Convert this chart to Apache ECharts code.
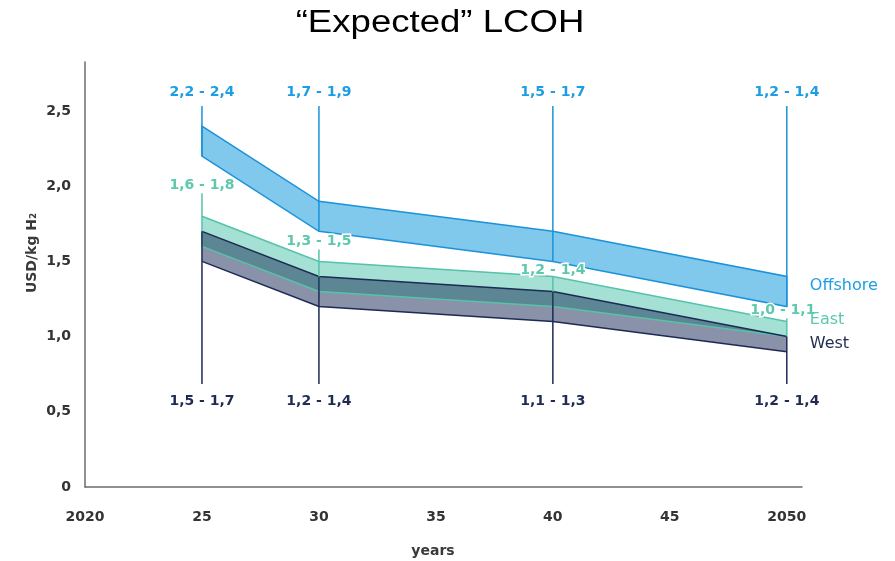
<!DOCTYPE html>
<html>
<head>
<meta charset="utf-8">
<script src="https://cdn.jsdelivr.net/npm/echarts@6/dist/echarts.min.js"></script>
<style>
  html, body { margin: 0; padding: 0; background: #ffffff; }
  #chart { width: 895px; height: 561px; }
</style>
</head>
<body>
<div id="chart"></div>
<script>
// Levelized cost of hydrogen ranges (USD/kg H2) for three supply regions
const years = [2025, 2030, 2040, 2050];

const offshoreLow  = [2.2, 1.7, 1.5, 1.2];
const offshoreHigh = [2.4, 1.9, 1.7, 1.4];
const eastLow      = [1.6, 1.3, 1.2, 1.0];
const eastHigh     = [1.8, 1.5, 1.4, 1.1];
const westLow      = [1.5, 1.2, 1.1, 0.9];
const westHigh     = [1.7, 1.4, 1.3, 1.0];

const offshoreLabels = ['2,2 - 2,4', '1,7 - 1,9', '1,5 - 1,7', '1,2 - 1,4'];
const eastLabels     = ['1,6 - 1,8', '1,3 - 1,5', '1,2 - 1,4', '1,0 - 1,1'];
const westLabels     = ['1,5 - 1,7', '1,2 - 1,4', '1,1 - 1,3', '1,2 - 1,4'];

const seriesNames = ['Offshore', 'East', 'West'];

const xTickValues = [2020, 2025, 2030, 2035, 2040, 2045, 2050];
const xTickLabels = ['2020', '25', '30', '35', '40', '45', '2050'];
const yTickValues = [0, 0.5, 1.0, 1.5, 2.0, 2.5];
const yTickLabels = ['0', '0,5', '1,0', '1,5', '2,0', '2,5'];

// Styling
const C = {
  offFill: '#80c8ec', offLine: '#1b93da', offText: '#1b9ee3',
  eastFill: '#a4e0d3', eastLine: '#55c3a9', eastText: '#5cc8ad',
  westFill: '#8a92a9', westLine: '#1c2a55', westText: '#1f2b52',
  overlap: '#5c8693',
  axis: '#6b6b6b', tick: '#333333'
};
const LABEL_FONT = 'DejaVu Sans';
const TOP_LABEL_Y = 92;      // offshore range labels row
const TOP_LINE_Y = 106;      // top of offshore leader lines
const BOTTOM_LINE_Y = 384;   // bottom of west leader lines
const BOTTOM_LABEL_Y = 401;  // west range labels row
const eastLabelDy = [-31, -20, -6, -11];
const eastLabelDx = [0, 0, 0, -4];
const nameDy = [-6, -9, 0];

function renderBands(params, api) {
  const pt = (x, y) => api.coord([x, y]);
  const edge = (arr) => years.map((x, i) => pt(x, arr[i]));
  const poly = (hi, lo) => edge(hi).concat(edge(lo).reverse());
  const ovTop = years.map((_, i) => Math.min(eastHigh[i], westHigh[i]));
  const ovBot = years.map((_, i) => Math.max(eastLow[i], westLow[i]));
  const kids = [];

  kids.push({ type: 'polygon', shape: { points: poly(offshoreHigh, offshoreLow) },
    style: { fill: C.offFill, stroke: C.offLine, lineWidth: 1.5 } });
  kids.push({ type: 'polygon', shape: { points: poly(westHigh, westLow) }, style: { fill: C.westFill } });
  kids.push({ type: 'polygon', shape: { points: poly(eastHigh, eastLow) }, style: { fill: C.eastFill } });
  kids.push({ type: 'polygon', shape: { points: poly(ovTop, ovBot) }, style: { fill: C.overlap } });

  [[eastHigh, C.eastLine], [eastLow, C.eastLine], [westHigh, C.westLine], [westLow, C.westLine]]
    .forEach(([arr, col]) => {
      kids.push({ type: 'polyline', shape: { points: edge(arr) },
        style: { stroke: col, lineWidth: 1.5, fill: null } });
    });

  const text = (str, x, y, col, halo) => ({
    type: 'text',
    style: {
      text: str, x: x, y: y, fill: col,
      fontFamily: LABEL_FONT, fontWeight: 'bold', fontSize: 14,
      align: 'center', verticalAlign: 'middle',
      stroke: halo ? '#ffffff' : null, lineWidth: halo ? 3 : 0
    }
  });

  years.forEach((yr, i) => {
    const oLo = pt(yr, offshoreLow[i]);
    const eHi = pt(yr, eastHigh[i]);
    const eLo = pt(yr, eastLow[i]);
    const wHi = pt(yr, westHigh[i]);
    const x = oLo[0];
    // offshore leader
    kids.push({ type: 'line', shape: { x1: x, y1: TOP_LINE_Y, x2: x, y2: oLo[1] },
      style: { stroke: C.offLine, lineWidth: 1.5 } });
    // east leader
    const eLabelY = eHi[1] + eastLabelDy[i];
    kids.push({ type: 'line', shape: { x1: x, y1: Math.min(eLabelY + 8, eHi[1]), x2: x, y2: eLo[1] },
      style: { stroke: C.eastLine, lineWidth: 1.5 } });
    // west leader
    kids.push({ type: 'line', shape: { x1: x, y1: wHi[1], x2: x, y2: BOTTOM_LINE_Y },
      style: { stroke: C.westLine, lineWidth: 1.5 } });

    kids.push(text(offshoreLabels[i], x, TOP_LABEL_Y, C.offText, false));
    kids.push(text(eastLabels[i], x + eastLabelDx[i], eLabelY, C.eastText, true));
    kids.push(text(westLabels[i], x, BOTTOM_LABEL_Y, C.westText, false));
  });

  // series names beside the 2050 end of each band
  const last = years.length - 1;
  const mids = [
    (offshoreLow[last] + offshoreHigh[last]) / 2,
    (eastLow[last] + eastHigh[last]) / 2,
    (westLow[last] + westHigh[last]) / 2
  ];
  const cols = [C.offText, C.eastText, C.westText];
  mids.forEach((m, k) => {
    const p = pt(years[last], m);
    kids.push({ type: 'text', style: {
      text: seriesNames[k], x: p[0] + 23, y: p[1] + nameDy[k], fill: cols[k],
      fontFamily: LABEL_FONT, fontSize: 16, align: 'left', verticalAlign: 'middle'
    } });
  });

  return { type: 'group', children: kids };
}

function fmtTick(values, labels) {
  return function (v) {
    for (let i = 0; i < values.length; i++) {
      if (Math.abs(values[i] - v) < 1e-6) return labels[i];
    }
    return '';
  };
}

const chart = echarts.init(document.getElementById('chart'), null, { renderer: 'canvas' });
chart.setOption({
  animation: false,
  backgroundColor: '#ffffff',
  grid: { left: 85, right: 93, top: 62, bottom: 74, containLabel: false },
  xAxis: {
    type: 'value', min: 2020, max: 2050.65, interval: 5,
    axisLine: { show: true, lineStyle: { color: C.axis, width: 1.5 } },
    axisTick: { show: false },
    splitLine: { show: false },
    axisLabel: { margin: 23, color: C.tick, fontFamily: LABEL_FONT, fontWeight: 'bold', fontSize: 14,
      formatter: fmtTick(xTickValues, xTickLabels) }
  },
  yAxis: {
    type: 'value', min: 0, max: 2.826, interval: 0.5,
    axisLine: { show: true, lineStyle: { color: C.axis, width: 1.5 } },
    axisTick: { show: false },
    splitLine: { show: false },
    axisLabel: { margin: 14, color: C.tick, fontFamily: LABEL_FONT, fontWeight: 'bold', fontSize: 14,
      formatter: fmtTick(yTickValues, yTickLabels) }
  },
  graphic: [
    { type: 'text', x: 440, y: 23, scaleX: 1.18, style: {
      text: '“Expected” LCOH', fill: '#000000', fontFamily: 'Liberation Sans', fontSize: 31,
      align: 'center', verticalAlign: 'middle' } },
    { type: 'text', x: 32, y: 253, rotation: Math.PI / 2, style: {
      text: 'USD/kg H₂', fill: '#3a3a3a', fontFamily: LABEL_FONT, fontWeight: 'bold', fontSize: 14,
      align: 'center', verticalAlign: 'middle' } },
    { type: 'text', x: 433, y: 551, style: {
      text: 'years', fill: '#3a3a3a', fontFamily: LABEL_FONT, fontWeight: 'bold', fontSize: 14,
      align: 'center', verticalAlign: 'middle' } }
  ],
  series: [{
    type: 'custom',
    coordinateSystem: 'cartesian2d',
    clip: false,
    silent: true,
    data: [[2025, 0]],
    renderItem: renderBands
  }]
});
</script>
</body>
</html>
